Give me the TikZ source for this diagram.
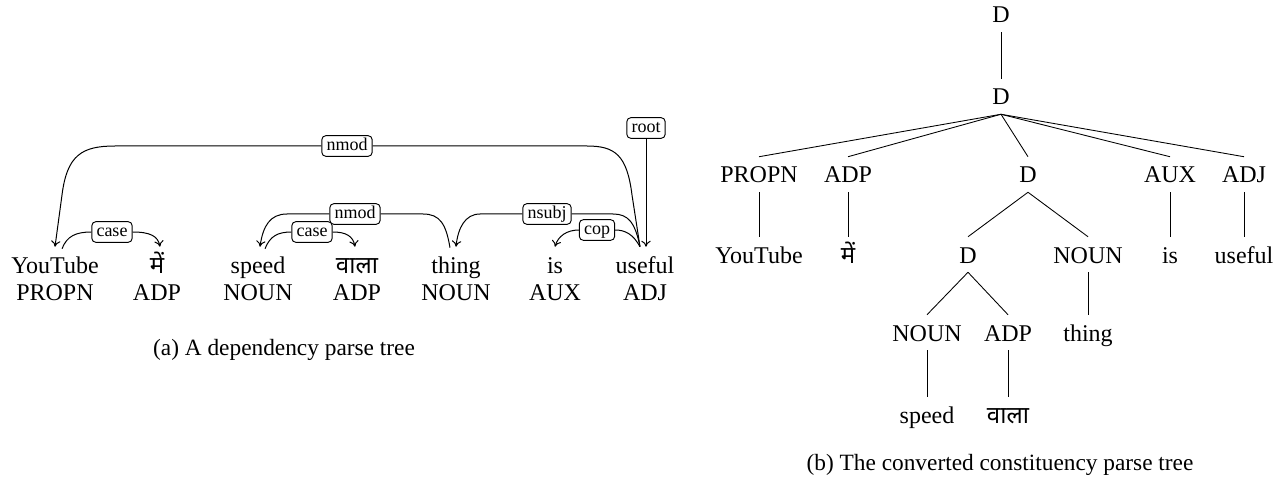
\documentclass[tikz,border=0pt]{standalone}
\usepackage{fontspec}
\setmainfont{Liberation Serif}
\newfontfamily\devfont[Script=Devanagari]{Noto Sans}
\usetikzlibrary{arrows.meta,calc}
\begin{document}
\begin{tikzpicture}[x=0.75pt,y=-0.75pt,
  wd/.style={anchor=base,inner sep=0pt,text height=19.5pt,text depth=6.75pt,font=\fontsize{18}{21}\selectfont},
  postag/.style={anchor=base,inner sep=0pt,font=\fontsize{18}{21}\selectfont},
  lab/.style={draw,line width=0.7pt,rounded corners=3pt,fill=white,inner xsep=3.5pt,inner ysep=2pt,
    text height=9pt,text depth=2.5pt,font=\fontsize{13.5}{15}\selectfont},
  dep/.style={line width=0.75pt},
  arr/.style={-{To[length=4.5pt,width=7pt]}},
  tr/.style={line width=0.65pt},
  captext/.style={anchor=base,inner sep=0pt,font=\fontsize{17.5}{21}\selectfont}]
\path[use as bounding box] (0,0) rectangle (1280,477);

% ---------- (a) dependency tree ----------
\node[wd] (w1) at (55,273) {YouTube};
\node[wd] (w2) at (157,273) {\devfont में};
\node[wd] (w3) at (258,273) {speed};
\node[wd] (w4) at (357,273) {\devfont वाला};
\node[wd] (w5) at (456,273) {thing};
\node[wd] (w6) at (555,273) {is};
\node[wd] (w7) at (645,273) {useful};
\node[postag] (p1) at (55,300) {PROPN};
\node[postag] (p2) at (157,300) {ADP};
\node[postag] (p3) at (258,300) {NOUN};
\node[postag] (p4) at (357,300) {ADP};
\node[postag] (p5) at (456,300) {NOUN};
\node[postag] (p6) at (555,300) {AUX};
\node[postag] (p7) at (645,300) {ADJ};

\node[lab] (n1) at (347,146) {nmod};
\node[lab] (c1) at (112,232) {case};
\node[lab] (n2) at (355,214) {nmod};
\node[lab] (c2) at (312,232) {case};
\node[lab] (ns) at (547,214) {nsubj};
\node[lab] (cp) at (597,230) {cop};
\node[lab] (rt) at (646,128) {root};

% nmod (useful -> YouTube)
\draw[dep] ($(w7.north)+(-5,0)$) -- (632,195) .. controls (627,155) and (615,146) .. (587,146) -- (n1.east);
\draw[dep,arr] (n1.west) -- (115,146) .. controls (82,146) and (67,155) .. (62,195) -- (w1.north);
% case (YouTube -> me)
\draw[dep] ($(w1.north)+(7,2)$) .. controls (67,236) and (76,232) .. (c1.west);
\draw[dep,arr] (c1.east) .. controls (150,232) and (158,236) .. ($(w2.north)+(3,0)$);
% case (speed -> vala)
\draw[dep] ($(w3.north)+(7,2)$) .. controls (270,236) and (278,232) .. (c2.west);
\draw[dep,arr] (c2.east) .. controls (346,232) and (353,236) .. ($(w4.north)+(-2,0)$);
% nmod (thing -> speed)
\draw[dep] ($(w5.north)+(-6,1)$) .. controls (446,224) and (440,214) .. (423,214) -- (n2.east);
\draw[dep,arr] (n2.west) -- (287,214) .. controls (270,214) and (263,226) .. ($(w3.north)+(2,0)$);
% nsubj (useful -> thing)
\draw[dep] ($(w7.north)+(-5,0)$) .. controls (635,222) and (628,214) .. (613,214) -- (ns.east);
\draw[dep,arr] (ns.west) -- (480,214) .. controls (465,214) and (458,228) .. (w5.north);
% cop (useful -> is)
\draw[dep] ($(w7.north)+(-5,0)$) .. controls (633,234) and (625,230) .. (cp.east);
\draw[dep,arr] (cp.west) .. controls (567,230) and (558,236) .. (w6.north);
% root
\draw[dep,arr] (rt.south) -- (rt.south |- w7.north);

\node[captext] (capa) at (284,355) {(a) A dependency parse tree};

% ---------- (b) constituency tree ----------
\node[wd] (d0) at (1001,23) {D};
\node[wd] (d1) at (1001,105) {D};
\node[wd] (tpropn) at (759,183) {PROPN};
\node[wd] (tadp) at (848,183) {ADP};
\node[wd] (d2) at (1028,183) {D};
\node[wd] (taux) at (1170,183) {AUX};
\node[wd] (tadj) at (1244,183) {ADJ};
\node[wd] (tyou) at (759,263) {YouTube};
\node[wd] (tme) at (848,263) {\devfont में};
\node[wd] (d3) at (968,263) {D};
\node[wd] (tnoun1) at (1088,263) {NOUN};
\node[wd] (tis) at (1170,263) {is};
\node[wd] (tuse) at (1244,263) {useful};
\node[wd] (tnoun2) at (927,341) {NOUN};
\node[wd] (tadp2) at (1008,341) {ADP};
\node[wd] (tthing) at (1088,341) {thing};
\node[wd] (tspeed) at (927,423) {speed};
\node[wd] (twala) at (1008,423) {\devfont वाला};

\draw[tr] (d0.south) -- (d1.north);
\foreach \c in {tpropn,tadp,d2,taux,tadj} \draw[tr] (d1.south) -- (\c.north);
\draw[tr] (tpropn.south) -- (tyou.north);
\draw[tr] (tadp.south) -- (tme.north);
\draw[tr] (taux.south) -- (tis.north);
\draw[tr] (tadj.south) -- (tuse.north);
\draw[tr] (d2.south) -- (d3.north);
\draw[tr] (d2.south) -- (tnoun1.north);
\draw[tr] (d3.south) -- (tnoun2.north);
\draw[tr] (d3.south) -- (tadp2.north);
\draw[tr] (tnoun1.south) -- (tthing.north);
\draw[tr] (tnoun2.south) -- (tspeed.north);
\draw[tr] (tadp2.south) -- (twala.north);

\node[captext] (capb) at (1000,470) {(b) The converted constituency parse tree};
\end{tikzpicture}
\end{document}
